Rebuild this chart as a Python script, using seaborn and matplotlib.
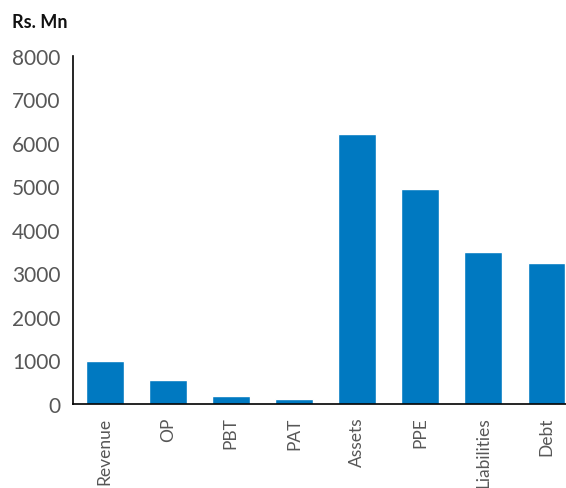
import matplotlib
matplotlib.use("Agg")
import matplotlib.pyplot as plt
import seaborn as sns
import pandas as pd

categories = ["Revenue", "OP", "PBT", "PAT", "Assets", "PPE", "Liabilities", "Debt"]
values = [990, 550, 185, 115, 6210, 4945, 3495, 3240]
y_ticks = [0, 1000, 2000, 3000, 4000, 5000, 6000, 7000, 8000]

sns.set_style("white")
plt.rcParams['font.family'] = ['Lato', 'DejaVu Sans']

df = pd.DataFrame({"cat": categories, "val": values})

fig = plt.figure(figsize=(5.66, 4.89), dpi=100)
W, H = 566, 489
ax = fig.add_axes([73 / W, (H - 405) / H, (578 - 73) / W, (405 - 57) / H])
sns.barplot(data=df, x="cat", y="val", color="#0079C1", saturation=1, width=0.6, ax=ax)

ax.set_ylim(0, 8000)
ax.set_xlim(-0.5, len(categories) - 0.5)
ax.set_yticks(y_ticks)
ax.set_yticklabels([str(t) for t in y_ticks], fontsize=15, color="#575757", fontweight="normal")
ax.set_xticks(range(len(categories)))
ax.set_xticklabels(categories, rotation=90, fontsize=12.5, color="#575757", fontweight="normal")
ax.tick_params(axis="both", length=0)
ax.tick_params(axis="y", pad=9)
ax.tick_params(axis="x", pad=9)
ax.set_xlabel("")
ax.set_ylabel("")
for s in ["top", "right"]:
    ax.spines[s].set_visible(False)
for s in ["left", "bottom"]:
    ax.spines[s].set_color("black")
    ax.spines[s].set_linewidth(1.2)

fig.text(12 / W, 1 - 22 / H, "Rs. Mn", fontsize=13, fontweight="bold", color="#111111", va="center", ha="left")

fig.savefig("out.png", dpi=100)
